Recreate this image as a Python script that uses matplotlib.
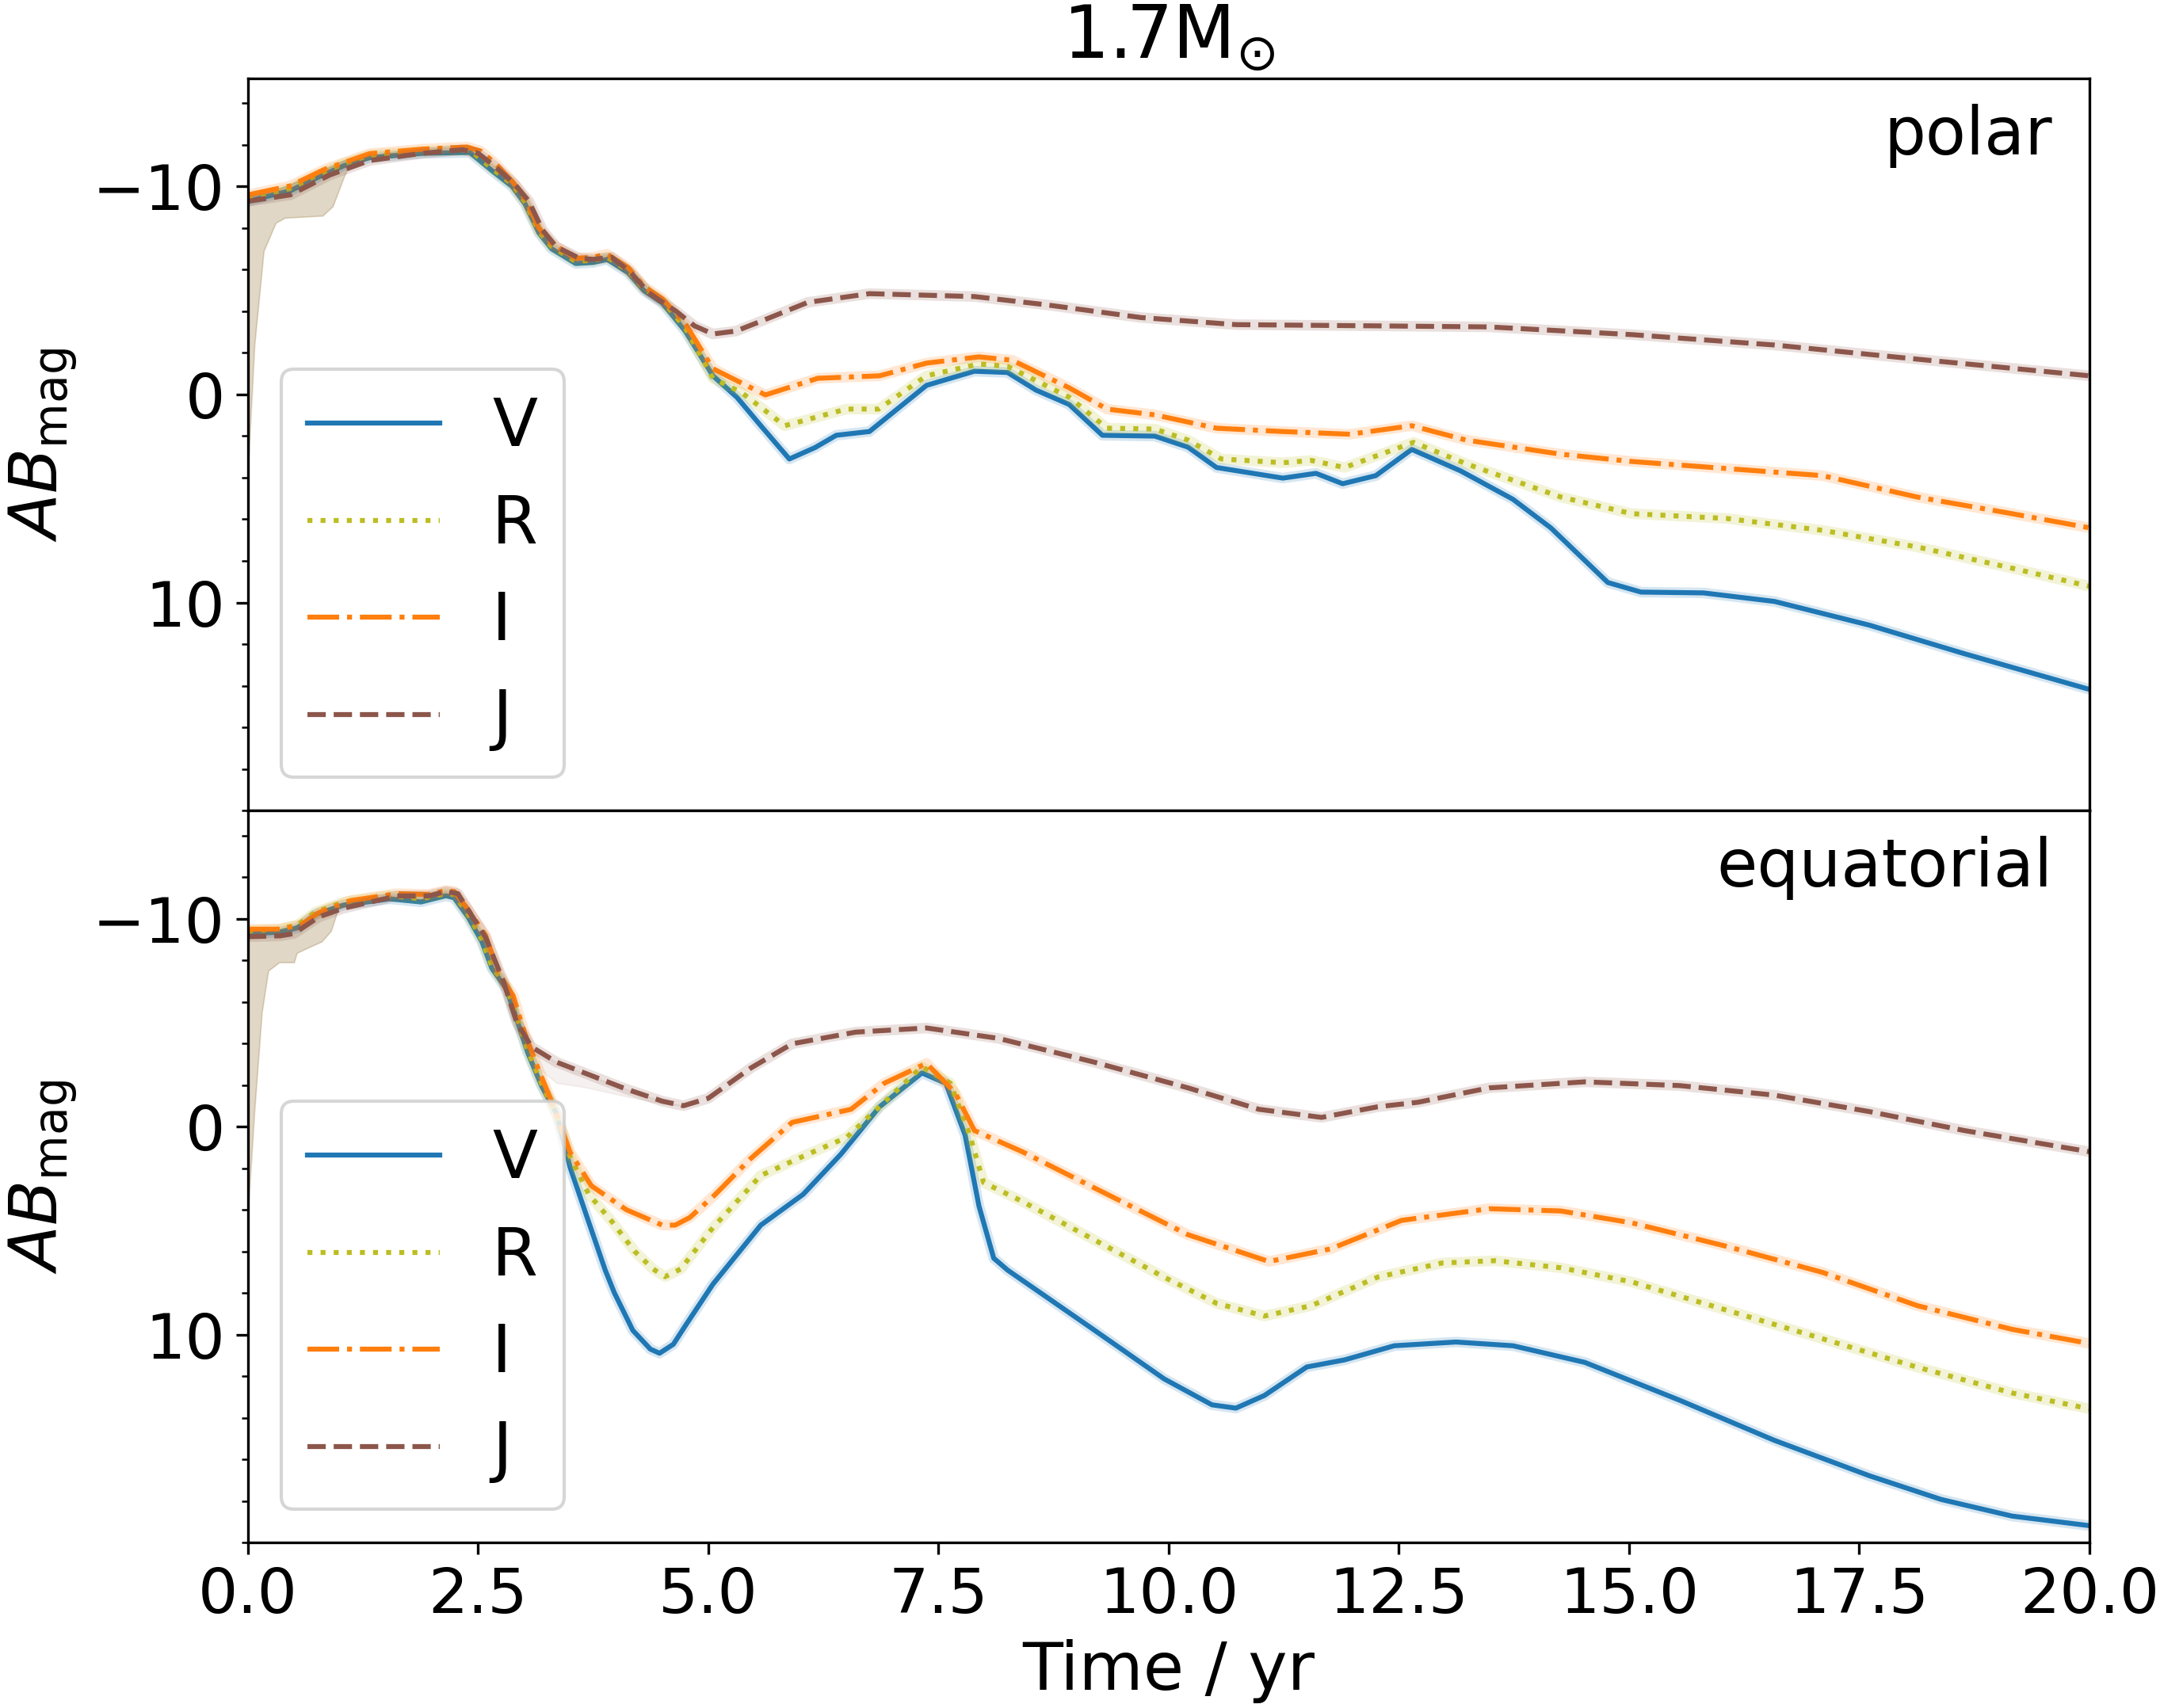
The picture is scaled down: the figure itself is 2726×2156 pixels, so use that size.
import matplotlib

matplotlib.use("Agg")
import matplotlib.pyplot as plt
from matplotlib.ticker import MultipleLocator

# ---- polar light curves (time in yr, AB magnitude) ----
polar_V_t = [0, 0.46, 0.75, 1.04, 1.32, 1.9, 2.41, 2.64, 2.87, 3.01, 3.16, 3.3, 3.56, 3.75, 3.9,
             4.13, 4.3, 4.5, 4.75, 5.05, 5.31, 5.57, 5.88, 6.16, 6.39, 6.75, 7.37, 7.89, 8.25, 8.56,
             8.92, 9.28, 9.85, 10.21, 10.52, 11.24, 11.6, 11.89, 12.25, 12.64, 13.17, 13.74, 14.15,
             14.77, 15.13, 15.81, 16.58, 17.61, 18.64, 20]
polar_V = [-9.3, -9.8, -10.43, -11.0, -11.39, -11.6, -11.64, -10.8, -10.0, -9.16, -7.77, -7.0, -6.3,
           -6.35, -6.5, -5.86, -5.0, -4.4, -3.05, -0.9, 0.13, 1.5, 3.1, 2.55, 1.96, 1.78, -0.44,
           -1.12, -1.06, -0.21, 0.48, 1.96, 2.0, 2.53, 3.51, 4.02, 3.79, 4.29, 3.9, 2.64, 3.67,
           5.04, 6.41, 9.04, 9.5, 9.54, 9.95, 11.09, 12.46, 14.18]

polar_R_t = [0, 0.46, 0.75, 1.04, 1.32, 1.9, 2.41, 2.64, 2.87, 3.01, 3.16, 3.3, 3.56, 3.75, 3.9,
             4.13, 4.3, 4.5, 4.75, 5.05, 5.36, 5.83, 6.5, 6.85, 7.37, 7.94, 8.25, 8.92, 9.33, 9.85,
             10.21, 10.57, 11.24, 11.55, 11.91, 12.66, 13.23, 14.26, 15.03, 16.06, 17.1, 18.13,
             19.16, 20]
polar_R = [-9.45, -9.9, -10.55, -11.1, -11.5, -11.7, -11.75, -10.9, -10.1, -9.25, -7.85, -7.1, -6.4,
           -6.45, -6.6, -5.95, -5.1, -4.5, -3.2, -0.78, -0.1, 1.5, 0.7, 0.7, -0.9, -1.47, -1.35,
           0.13, 1.62, 1.66, 2.19, 3.1, 3.28, 3.17, 3.51, 2.3, 3.33, 4.93, 5.73, 5.96, 6.53, 7.33,
           8.35, 9.22]

polar_I_t = [0, 0.46, 0.83, 1.32, 1.9, 2.38, 2.53, 2.7, 2.87, 3.01, 3.16, 3.3, 3.56, 3.75, 3.9,
             4.13, 4.3, 4.5, 4.75, 5.05, 5.62, 6.19, 6.86, 7.37, 7.94, 8.3, 8.92, 9.33, 9.85, 10.52,
             11.24, 11.97, 12.64, 13.23, 14.26, 15.03, 16.06, 17.1, 18.13, 19.16, 20]
polar_I = [-9.6, -10.03, -10.82, -11.58, -11.8, -11.9, -11.7, -11.05, -10.25, -9.4, -8.0, -7.25,
           -6.55, -6.6, -6.75, -6.1, -5.2, -4.6, -3.4, -1.24, 0.02, -0.78, -0.9, -1.51, -1.81,
           -1.65, -0.32, 0.7, 0.98, 1.62, 1.78, 1.91, 1.5, 2.19, 2.87, 3.22, 3.56, 3.9, 4.93, 5.73,
           6.41]

polar_J_t = [0, 0.46, 0.89, 1.32, 1.9, 2.33, 2.5, 2.7, 2.9, 3.05, 3.2, 3.35, 3.6, 3.75, 3.95, 4.15,
             4.35, 4.65, 4.85, 5.05, 5.3, 5.57, 6.08, 6.75, 7.89, 8.66, 9.7, 10.73, 12.27, 13.48,
             15.03, 16.58, 18.13, 20]
polar_J = [-9.29, -9.6, -10.56, -11.25, -11.6, -11.77, -11.6, -10.9, -10.1, -9.3, -7.9, -7.1,
           -6.55, -6.5, -6.6, -5.9, -4.9, -4.0, -3.3, -2.91, -3.05, -3.52, -4.43, -4.85, -4.71,
           -4.32, -3.7, -3.36, -3.3, -3.25, -2.88, -2.38, -1.7, -0.9]

# early-time spread between models (polar)
polar_band_t = [0, 0.07, 0.17, 0.3, 0.4, 0.81, 0.92, 1.04, 1.09, 1.15]
polar_band_hi = [-9.6, -9.65, -9.7, -9.85, -10.0, -10.8, -11.0, -11.25, -11.35, -11.4]
polar_band_lo = [3.5, -2.4, -6.9, -8.25, -8.5, -8.6, -9.05, -10.45, -10.95, -11.2]

# ---- equatorial light curves ----
equ_V_t = [0, 0.35, 0.54, 0.73, 1.04, 1.54, 1.88, 2.15, 2.24, 2.39, 2.54, 2.65, 2.81, 2.92, 3.04,
           3.19, 3.35, 3.5, 3.69, 3.88, 3.98, 4.18, 4.37, 4.47, 4.62, 4.75, 5.05, 5.57, 6.03, 6.44,
           6.86, 7.32, 7.58, 7.79, 7.94, 8.1, 8.25, 9.18, 9.95, 10.47, 10.73, 11.04, 11.5, 11.91,
           12.45, 13.12, 13.74, 14.52, 15.55, 16.58, 17.61, 18.39, 19.16, 20]
equ_V = [-9.28, -9.35, -9.56, -10.2, -10.65, -10.95, -10.8, -11.1, -11.0, -10.08, -8.9, -7.6, -6.6,
         -5.14, -3.54, -1.94, -0.64, 1.98, 4.45, 6.9, 8.0, 9.8, 10.7, 10.9, 10.47, 9.58, 7.58, 4.74,
         3.26, 1.33, -0.95, -2.58, -2.08, 0.42, 3.83, 6.33, 6.9, 9.75, 12.13, 13.38, 13.54, 12.93,
         11.56, 11.22, 10.54, 10.36, 10.54, 11.34, 13.16, 15.09, 16.79, 17.93, 18.73, 19.19]

equ_R_t = [0, 0.35, 0.54, 0.73, 1.04, 1.54, 1.88, 2.15, 2.24, 2.39, 2.54, 2.65, 2.81, 2.92, 3.04,
           3.19, 3.35, 3.5, 3.7, 3.95, 4.2, 4.4, 4.53, 4.7, 5.05, 5.57, 6.08, 6.5, 6.91, 7.32, 7.63,
           7.84, 7.99, 8.41, 9.18, 9.95, 10.52, 11.04, 11.55, 12.27, 12.97, 13.54, 14.26, 15.03,
           16.06, 17.1, 18.13, 19.16, 20]
equ_R = [-9.4, -9.5, -9.7, -10.3, -10.8, -11.1, -10.95, -11.2, -11.15, -10.2, -9.0, -7.7, -6.7,
         -5.25, -3.65, -2.05, -0.6, 1.45, 3.25, 4.55, 6.0, 6.85, 7.22, 6.85, 4.86, 2.35, 1.33, 0.53,
         -1.17, -2.88, -2.08, 0.42, 2.69, 3.6, 5.42, 7.24, 8.5, 9.11, 8.61, 7.24, 6.56, 6.45, 6.79,
         7.47, 8.83, 10.2, 11.57, 12.81, 13.57]

equ_I_t = [0, 0.35, 0.58, 0.77, 1.12, 1.62, 1.96, 2.15, 2.24, 2.38, 2.58, 2.73, 2.88, 3.0, 3.15,
           3.31, 3.5, 3.73, 4.11, 4.5, 4.64, 4.8, 5.07, 5.46, 5.91, 6.55, 6.91, 7.37, 7.68, 7.89,
           8.41, 9.18, 10.21, 11.09, 11.76, 12.53, 13.48, 14.26, 15.03, 16.06, 17.1, 18.13, 19.16,
           20]
equ_I = [-9.49, -9.49, -9.71, -10.29, -10.87, -11.2, -11.16, -11.35, -11.3, -10.5, -9.2, -7.3, -6.3,
         -4.56, -2.8, -1.07, 1.25, 2.85, 4.0, 4.74, 4.74, 4.37, 3.29, 1.54, -0.2, -0.83, -2.08,
         -3.04, -1.63, 0.19, 1.21, 2.92, 5.2, 6.49, 5.88, 4.51, 3.95, 4.06, 4.63, 5.76, 7.01, 8.61,
         9.75, 10.43]

equ_J_t = [0, 0.35, 0.5, 0.77, 1.04, 1.62, 1.96, 2.15, 2.28, 2.38, 2.58, 2.77, 2.92, 3.08, 3.35,
           3.73, 4.11, 4.5, 4.73, 5.0, 5.46, 5.91, 6.6, 7.37, 8.15, 9.18, 10.21, 10.98, 11.66, 12.27,
           12.71, 13.48, 14.52, 15.55, 16.58, 17.61, 18.64, 20]
equ_J = [-9.13, -9.17, -9.28, -10.08, -10.5, -11.09, -11.09, -11.3, -11.2, -10.5, -9.1, -7.03, -5.0,
         -3.83, -3.1, -2.45, -1.8, -1.22, -1.0, -1.36, -2.81, -3.98, -4.54, -4.74, -4.24, -3.11,
         -1.86, -0.83, -0.44, -0.95, -1.17, -1.86, -2.15, -1.97, -1.51, -0.72, 0.19, 1.21]

# early-time spread (equatorial) and the J spread around 3-5 yr
equ_band_t = [0, 0.07, 0.15, 0.22, 0.34, 0.5, 0.53, 0.65, 0.8, 0.9, 1.0]
equ_band_hi = [-9.5, -9.5, -9.5, -9.5, -9.5, -9.65, -9.7, -9.95, -10.35, -10.55, -10.75]
equ_band_lo = [4.0, -0.8, -5.5, -7.5, -7.9, -7.9, -8.35, -8.6, -8.9, -9.4, -10.75]

equ_Jband_t = [2.95, 3.08, 3.35, 3.65, 4.11, 4.5, 4.73]
equ_Jband_hi = [-4.7, -3.83, -3.1, -2.55, -1.8, -1.22, -1.0]
equ_Jband_lo = [-4.5, -3.1, -2.1, -1.9, -1.45, -1.1, -1.0]

bands = ["V", "R", "I", "J"]
colors = {"V": "#1f77b4", "R": "#bcbd22", "I": "#ff7f0e", "J": "#8c564b"}
styles = {"V": "-", "R": ":", "I": "-.", "J": "--"}

FS = 19


def draw_panel(ax, curves, band_t, band_hi, band_lo, label):
    # shaded spread, one layer per filter so the colours mix
    for b in bands:
        ax.fill_between(band_t, band_hi, band_lo, color=colors[b], alpha=0.085, lw=0.4)
    for b in bands:
        t, m = curves[b]
        # faint halo under each curve
        ax.plot(t, m, color=colors[b], lw=3.2, alpha=0.18, solid_capstyle="round")
        ax.plot(t, m, color=colors[b], ls=styles[b], lw=1.5, label=b)

    ax.set_xlim(0, 20)
    ax.set_ylim(20, -15.2)
    ax.set_yticks([-10, 0, 10])
    ax.yaxis.set_minor_locator(MultipleLocator(2))
    ax.set_ylabel(r"$AB_{\rm mag}$", fontsize=FS + 1)
    ax.tick_params(labelsize=FS)
    ax.text(0.98, 0.965, label, transform=ax.transAxes, ha="right", va="top", fontsize=FS + 1)
    ax.legend(loc="lower left", fontsize=FS + 1)


def main():
    fig, (ax1, ax2) = plt.subplots(2, 1, sharex=True, figsize=(2726 / 300, 2156 / 300), dpi=300)
    fig.subplots_adjust(left=0.1148, right=0.9673, top=0.9541, bottom=0.0969, hspace=0)

    polar = {"V": (polar_V_t, polar_V), "R": (polar_R_t, polar_R),
             "I": (polar_I_t, polar_I), "J": (polar_J_t, polar_J)}
    equ = {"V": (equ_V_t, equ_V), "R": (equ_R_t, equ_R),
           "I": (equ_I_t, equ_I), "J": (equ_J_t, equ_J)}

    draw_panel(ax1, polar, polar_band_t, polar_band_hi, polar_band_lo, "polar")
    draw_panel(ax2, equ, equ_band_t, equ_band_hi, equ_band_lo, "equatorial")
    ax2.fill_between(equ_Jband_t, equ_Jband_hi, equ_Jband_lo, color=colors["J"], alpha=0.08, lw=0.4)

    ax1.tick_params(axis="x", which="both", bottom=False, labelbottom=False)
    ax1.set_title(r"1.7M$_{\odot}$", fontsize=FS + 3)
    ax2.set_xlabel("Time / yr", fontsize=FS + 1)

    fig.savefig("out.png", dpi=300)


if __name__ == "__main__":
    main()
